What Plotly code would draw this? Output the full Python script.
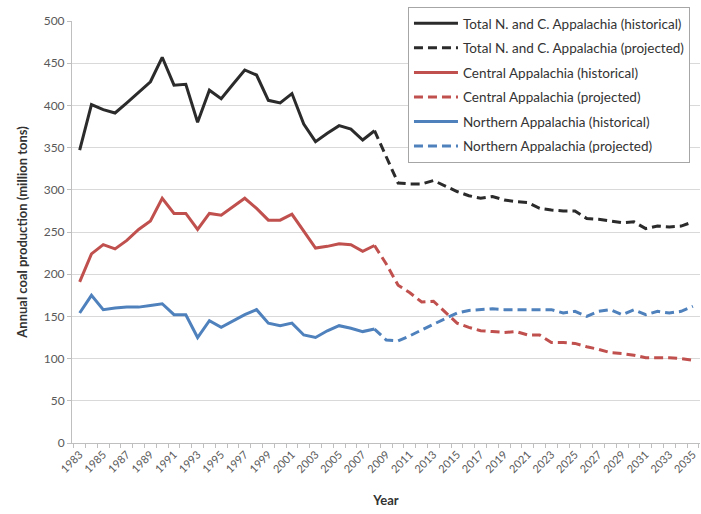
import plotly.graph_objects as go

hist_years = list(range(1983, 2009))
proj_years = list(range(2008, 2036))

total_hist = [347, 401, 395, 391, 403, 415, 428, 457, 424, 425, 380, 418, 408, 425,
              442, 436, 406, 403, 414, 378, 357, 367, 376, 372, 359, 370]
total_proj = [370, 340, 308, 307, 307, 311, 304, 298, 293, 290, 292, 288, 286, 285,
              278, 276, 275, 275, 266, 265, 263, 261, 262, 254, 257, 256, 257, 262]

central_hist = [191, 224, 235, 230, 240, 253, 263, 290, 272, 272, 253, 272, 270, 280,
                290, 278, 264, 264, 271, 251, 231, 233, 236, 235, 227, 234]
central_proj = [234, 212, 187, 178, 167, 168, 155, 142, 137, 133, 132, 131, 132, 128,
                128, 119, 119, 118, 114, 111, 107, 106, 104, 101, 101, 101, 100, 98]

northern_hist = [154, 175, 158, 160, 161, 161, 163, 165, 152, 152, 125, 145, 137, 145,
                 152, 158, 142, 139, 142, 128, 125, 133, 139, 136, 132, 135]
northern_proj = [135, 122, 121, 127, 134, 141, 148, 154, 157, 158, 159, 158, 158, 158,
                 158, 158, 154, 156, 150, 156, 158, 152, 158, 152, 156, 154, 156, 162]

names = ["Total N. and C. Appalachia (historical)", "Total N. and C. Appalachia (projected)",
         "Central Appalachia (historical)", "Central Appalachia (projected)",
         "Northern Appalachia (historical)", "Northern Appalachia (projected)"]

tick_years = list(range(1983, 2036, 2))
y_ticks = list(range(0, 501, 50))

BLACK = "#2b2b2b"
RED = "#c0504d"
BLUE = "#4f81bd"
DASH = "9px,5px"

series = [
    (hist_years, total_hist, BLACK, "solid"),
    (proj_years, total_proj, BLACK, DASH),
    (hist_years, central_hist, RED, "solid"),
    (proj_years, central_proj, RED, DASH),
    (hist_years, northern_hist, BLUE, "solid"),
    (proj_years, northern_proj, BLUE, DASH),
]

fig = go.Figure()
for i, (xs, ys, col, dash) in enumerate(series):
    fig.add_trace(go.Scatter(x=xs, y=ys, mode="lines", name=names[i],
                             legendgroup=f"g{i}",
                             line=dict(color=col, width=3, dash=dash)))

# paper area: top at y=7, bottom at y=443 (height 436); plot top at y=21
fig.update_layout(
    width=701, height=514,
    margin=dict(l=72, r=1, t=7, b=71),
    paper_bgcolor="white", plot_bgcolor="white",
    font=dict(family="Lato, Open Sans, sans-serif", color="#404040"),
    showlegend=True,
    legend=dict(x=0.535, y=1.0, xanchor="left", yanchor="top",
                bgcolor="white", bordercolor="#a6a6a6", borderwidth=1,
                font=dict(size=13.5, color="#333333"),
                itemwidth=44, tracegroupgap=4, traceorder="grouped"),
    xaxis=dict(range=[1982.35, 2035.6], tickmode="array", tickvals=tick_years,
               ticktext=[str(y) for y in tick_years], tickangle=-45,
               tickfont=dict(size=11, color="#595959"),
               showgrid=False, zeroline=False, automargin=False,
               showline=True, linecolor="#bfbfbf", linewidth=1,
               ticks="",
               minor=dict(tickvals=[y + 0.5 for y in range(1982, 2036)],
                          ticks="outside", ticklen=4, tickcolor="#bfbfbf"),
               title=dict(text="<b>Year</b>", font=dict(size=13, color="#333333"),
                          standoff=21)),
    yaxis=dict(range=[0, 500], tickvals=y_ticks, domain=[0, 1 - 14 / 436],
               tickfont=dict(size=12, color="#595959"), automargin=False,
               showgrid=True, gridcolor="#d9d9d9", gridwidth=1,
               zeroline=False, showline=True, linecolor="#bfbfbf", linewidth=1,
               ticks="outside", ticklen=4, tickcolor="#bfbfbf",
               title=dict(text="<b>Annual coal production (million tons)</b>",
                          font=dict(size=13, color="#333333"), standoff=13)),
)

fig.write_html("out.html", config={"displayModeBar": False},
               post_script="document.body.style.margin='0';document.body.style.overflow='hidden';")
